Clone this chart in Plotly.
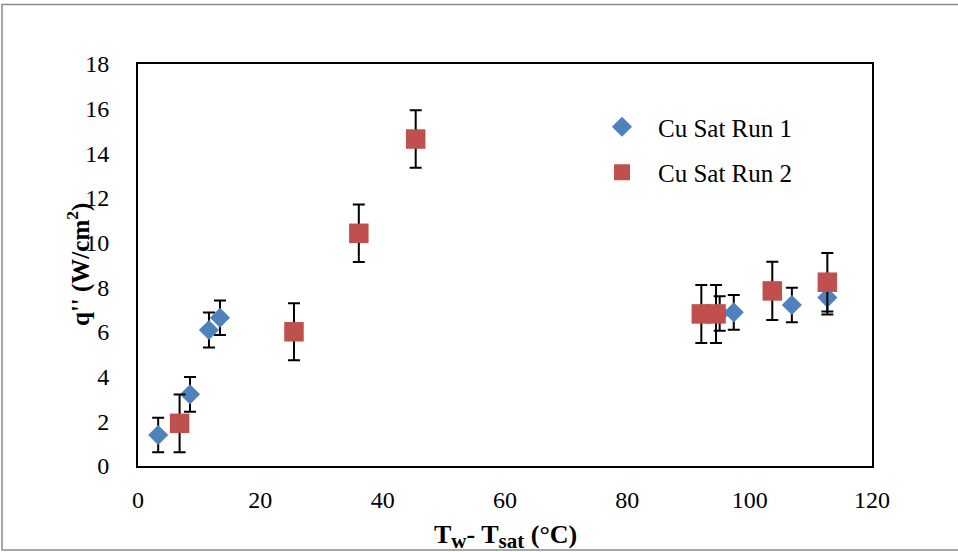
import plotly.graph_objects as go

# ---- data ----
run1_x = [3.3, 8.5, 11.6, 13.4, 95.1, 97.4, 106.9, 112.7]
run1_y = [1.39, 3.21, 6.09, 6.64, 6.83, 6.88, 7.21, 7.54]
run1_err = [0.77, 0.78, 0.78, 0.77, 0.77, 0.78, 0.77, 0.76]

run2_x = [6.8, 25.5, 36.1, 45.4, 92.1, 94.5, 103.7, 112.7]
run2_y = [1.91, 6.01, 10.42, 14.64, 6.81, 6.81, 7.84, 8.23]
run2_err = [1.29, 1.28, 1.29, 1.29, 1.30, 1.30, 1.30, 1.31]

x_ticks = [0, 20, 40, 60, 80, 100, 120]
y_ticks = [0, 2, 4, 6, 8, 10, 12, 14, 16, 18]

BLUE = "#4F81BD"
RED = "#C0504D"
FONT = "Liberation Serif"

fig = go.Figure()
fig.add_trace(go.Scatter(
    x=run1_x, y=run1_y, mode="markers", name="Cu Sat Run 1",
    legendgroup="a",
    marker=dict(symbol="diamond", size=15.5, color=BLUE),
    error_y=dict(type="data", array=run1_err, visible=True,
                 color="black", thickness=2, width=6),
))
fig.add_trace(go.Scatter(
    x=run2_x, y=run2_y, mode="markers", name="Cu Sat Run 2",
    legendgroup="b",
    marker=dict(symbol="square", size=19.5, color=RED),
    error_y=dict(type="data", array=run2_err, visible=True,
                 color="black", thickness=2, width=6),
))

L, R, T, B = 138, 86, 64, 86
W, H = 958, 552
pw, ph = W - L - R, H - T - B

def px2x(p):
    return (p - L) / pw

def py2y(p):
    return (H - B - p) / ph

fig.update_layout(
    width=W, height=H,
    margin=dict(l=L, r=R, t=T, b=B, autoexpand=False),
    paper_bgcolor="white", plot_bgcolor="white",
    font=dict(family=FONT, size=23, color="black"),
    showlegend=True,
    legend=dict(
        x=px2x(586), y=py2y(104), xanchor="left", yanchor="top",
        font=dict(family=FONT, size=25, color="black"),
        bgcolor="rgba(0,0,0,0)", tracegroupgap=10,
        itemsizing="trace", itemwidth=62,
    ),
    xaxis=dict(
        range=[0, 120], tickvals=x_ticks, ticktext=[str(v) for v in x_ticks],
        showgrid=False, zeroline=False, showline=True, linecolor="black",
        linewidth=2, mirror=True, ticks="", ticklabelstandoff=11,
        tickfont=dict(family=FONT, size=24, color="black"),
    ),
    yaxis=dict(
        range=[0, 18], tickvals=y_ticks, ticktext=[str(v) for v in y_ticks],
        showgrid=False, zeroline=False, showline=True, linecolor="black",
        linewidth=2, mirror=True, ticks="", ticklabelstandoff=22,
        tickfont=dict(family=FONT, size=24, color="black"),
    ),
    annotations=[
        dict(text=("<b>T<sub><span style='font-size:21px'>w</span></sub>- "
                   "T<sub><span style='font-size:21px'>sat</span></sub> (°C)</b>"),
             xref="paper", yref="paper",
             x=0.5, y=py2y(536), xanchor="center", yanchor="middle", showarrow=False,
             font=dict(family=FONT, size=26, color="black")),
        dict(text="<b>q'' (W/cm<sup>2</sup>)</b>", xref="paper", yref="paper",
             x=px2x(78), y=0.5, xanchor="center", yanchor="middle", showarrow=False,
             textangle=-90, font=dict(family=FONT, size=25, color="black")),
    ],
    shapes=[
        dict(type="rect", xref="paper", yref="paper",
             x0=px2x(2), x1=px2x(961), y0=py2y(550), y1=py2y(4.5),
             line=dict(color="#8c8c8c", width=1.5), layer="below"),
    ],
)

fig.write_html("out.html")
